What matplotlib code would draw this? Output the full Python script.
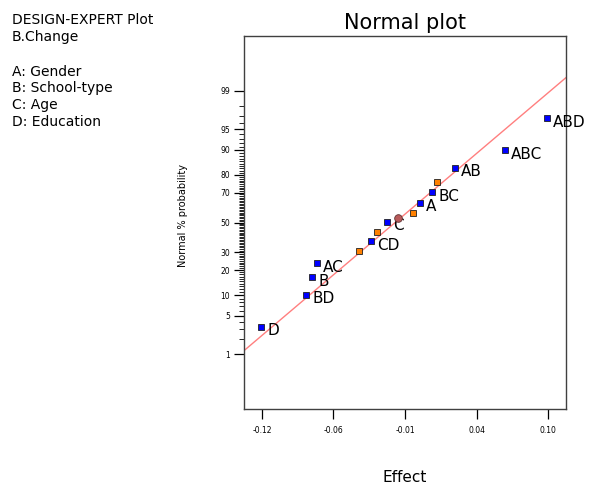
import numpy as np
import matplotlib
matplotlib.use('Agg')
import matplotlib.pyplot as plt
from statistics import NormalDist

# effects, in rank order
labels = ['D', 'BD', 'B', 'AC', '', 'CD', '', 'C', '', 'A', 'BC', '', 'AB', 'ABC', 'ABD']
effects = [-0.1208, -0.0862, -0.0815, -0.0777, -0.0454, -0.0362, -0.0315, -0.0238,
           -0.0038, 0.0015, 0.0108, 0.0146, 0.0285, 0.0669, 0.0992]
probs = [3.3, 10.2, 16.6, 23.5, 30.5, 36.9, 43.7, 50.7, 57.0, 63.8, 70.2, 76.5, 83.4, 90.0, 96.7]
kinds = ['e', 'e', 'e', 'e', 'n', 'e', 'n', 'e', 'n', 'e', 'e', 'n', 'e', 'e', 'e']

# extra round marker
circ_x = [-0.0154]
circ_p = [53.5]

# fitted line (mean, sd of the effect distribution)
line_mean = -0.0176
line_sd = 0.0514

xticks = [-0.12, -0.065, -0.01, 0.045, 0.10]
xticklabels = ['-0.12', '-0.06', '-0.01', '0.04', '0.10']
ymajor = [1, 5, 10, 20, 30, 50, 70, 80, 90, 95, 99]
yminor = [2, 3, 4] + [v for v in range(6, 95) if v not in ymajor] + [96, 97, 98]

nd = NormalDist()
_ppf = np.vectorize(nd.inv_cdf, otypes=[float])
_cdf = np.vectorize(nd.cdf, otypes=[float])


def fwd(p):
    p = np.asarray(p, float) / 100.
    bad = ~np.isfinite(p)
    p = np.clip(np.where(bad, 0.5, p), 1e-12, 1 - 1e-12)
    z = _ppf(p)
    return np.where(bad, np.nan, z)


def inv(z):
    z = np.asarray(z, float)
    bad = ~np.isfinite(z)
    out = _cdf(np.where(bad, 0., z)) * 100.
    return np.where(bad, np.nan, out)


fig = plt.figure(figsize=(5.9, 4.86), dpi=100)
ax = fig.add_axes([0.4136, 0.1584, 0.5457, 0.7675])
ax.set_yscale('function', functions=(fwd, inv))
ax.set_xlim(-0.1338, 0.1138)
ax.set_ylim(0.05, 99.95)

# normal line across the whole box
lx = np.array(ax.get_xlim())
ly = inv((lx - line_mean) / line_sd)
ax.plot(lx, ly, color='#ff7f7f', lw=1.0, zorder=2)

cols = {'e': '#0000ff', 'n': '#ff8000'}
for x, p, k, lab in zip(effects, probs, kinds, labels):
    ax.plot(x, p, marker='s', ms=4.6, mfc=cols[k], mec='#202020', mew=0.6,
            ls='none', zorder=3)
    if lab:
        ax.annotate(lab, (x, p), xytext=(4.5, -3), textcoords='offset points',
                    ha='left', va='center', fontsize=11)
ax.plot(circ_x, circ_p, marker='o', ms=5.5, mfc='#b85a5a', mec='#603030', mew=0.6,
        ls='none', zorder=4)

ax.set_xticks(xticks)
ax.set_xticklabels(xticklabels)
ax.set_yticks(ymajor)
ax.set_yticklabels([str(v) for v in ymajor])
ax.set_yticks(yminor, minor=True)
ax.tick_params(axis='both', which='major', length=7, width=0.9, labelsize=5.5, pad=3)
ax.tick_params(axis='x', which='major', pad=5)
ax.tick_params(axis='y', which='minor', length=3.5, width=0.6)
ax.tick_params(axis='x', which='minor', bottom=False)
for s in ax.spines.values():
    s.set_color('#404040')
    s.set_linewidth(1.0)

ax.set_title('Normal plot', fontsize=15, pad=5)
ax.set_xlabel('Effect', fontsize=11)
ax.xaxis.set_label_coords(0.5, -0.164)
ax.set_ylabel('Normal % probability', fontsize=7,
              family=['Liberation Sans Narrow', 'DejaVu Sans Condensed', 'DejaVu Sans'])
ax.yaxis.set_label_coords(-0.174, 0.52)

notes = [('DESIGN-EXPERT Plot', 20), ('B.Change', 37), ('A: Gender', 72),
         ('B: School-type', 88), ('C: Age', 105), ('D: Education', 122)]
for txt, yc in notes:
    fig.text(12 / 590., 1 - yc / 486., txt, fontsize=10, ha='left', va='center')

plt.savefig('out.png', dpi=100)
